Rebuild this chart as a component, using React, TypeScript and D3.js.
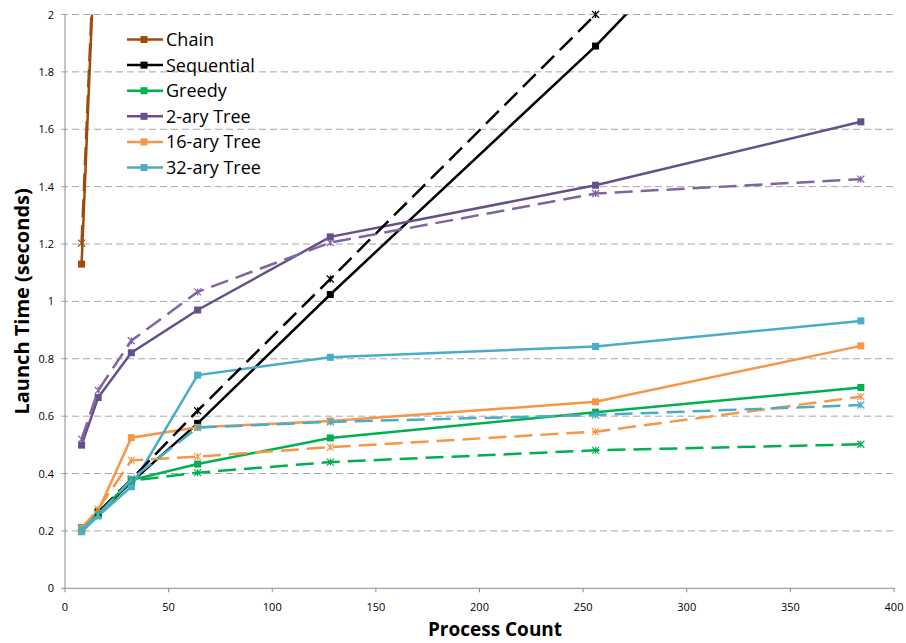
import React, { useRef, useEffect } from 'react';
import * as d3 from 'd3';

// process counts on the x axis
const counts = [8, 16, 32, 64, 128, 256, 384];
const chainCounts = [8, 16];

// solid lines (square markers)
const chainSolid = [1.13, 2.52];
const sequentialSolid = [0.21, 0.26, 0.37, 0.575, 1.024, 1.89, 2.85];
const greedySolid = [0.21, 0.26, 0.377, 0.433, 0.524, 0.614, 0.7];
const tree2Solid = [0.499, 0.665, 0.821, 0.97, 1.225, 1.405, 1.626];
const tree16Solid = [0.21, 0.27, 0.525, 0.561, 0.583, 0.65, 0.845];
const tree32Solid = [0.197, 0.252, 0.354, 0.743, 0.805, 0.843, 0.932];

// dashed lines (star markers)
const chainDashed = [1.203, 2.55];
const sequentialDashed = [0.21, 0.265, 0.38, 0.619, 1.078, 2.0, 2.9];
const greedyDashed = [0.21, 0.26, 0.375, 0.403, 0.44, 0.481, 0.502];
const tree2Dashed = [0.52, 0.69, 0.863, 1.033, 1.205, 1.376, 1.426];
const tree16Dashed = [0.21, 0.276, 0.446, 0.459, 0.492, 0.546, 0.668];
const tree32Dashed = [0.205, 0.255, 0.38, 0.56, 0.58, 0.604, 0.639];

const seriesNames = ['Chain', 'Sequential', 'Greedy', '2-ary Tree', '16-ary Tree', '32-ary Tree'];
const seriesColors = ['#9C4A0E', '#000000', '#00B050', '#66508A', '#F79646', '#4BACC6'];
const dashedColors = ['#9C4A0E', '#000000', '#00B050', '#8064A2', '#F79646', '#4BACC6'];

const xTicks = [0, 50, 100, 150, 200, 250, 300, 350, 400];
const yTicks = [0, 0.2, 0.4, 0.6, 0.8, 1, 1.2, 1.4, 1.6, 1.8, 2];

const App = () => {
    const chartRef = useRef<SVGSVGElement>(null);

    useEffect(() => {
        const svg = d3.select(chartRef.current);
        svg.selectAll('*').remove();

        const left = 65, right = 894, top = 14.5, bottom = 588.3;
        const font = "'Open Sans', sans-serif";

        const x = d3.scaleLinear().domain([0, 400]).range([left, right]);
        const y = d3.scaleLinear().domain([0, 2]).range([bottom, top]);

        // gridlines
        svg.append('g')
            .selectAll('line')
            .data(yTicks.slice(1))
            .enter()
            .append('line')
            .attr('x1', left - 4)
            .attr('x2', right + 1)
            .attr('y1', (d) => y(d))
            .attr('y2', (d) => y(d))
            .attr('stroke', '#A6A6A6')
            .attr('stroke-width', 1)
            .attr('stroke-dasharray', '7,4');

        // axes
        const axisColor = '#8C8C8C';
        svg.append('line')
            .attr('x1', left).attr('x2', left)
            .attr('y1', top).attr('y2', bottom)
            .attr('stroke', axisColor);
        svg.append('line')
            .attr('x1', left - 4).attr('x2', right + 1)
            .attr('y1', bottom).attr('y2', bottom)
            .attr('stroke', axisColor);
        svg.append('g')
            .selectAll('line')
            .data(xTicks)
            .enter()
            .append('line')
            .attr('x1', (d) => x(d)).attr('x2', (d) => x(d))
            .attr('y1', bottom).attr('y2', bottom + 4)
            .attr('stroke', axisColor);

        svg.append('g')
            .selectAll('text')
            .data(xTicks)
            .enter()
            .append('text')
            .attr('x', (d) => x(d))
            .attr('y', bottom + 23)
            .attr('text-anchor', 'middle')
            .style('font-family', font)
            .style('font-size', '11px')
            .attr('fill', '#000')
            .text((d) => d);

        svg.append('g')
            .selectAll('text')
            .data(yTicks)
            .enter()
            .append('text')
            .attr('x', 54)
            .attr('y', (d) => y(d) + 4)
            .attr('text-anchor', 'end')
            .style('font-family', font)
            .style('font-size', '11px')
            .attr('fill', '#000')
            .text((d) => d);

        svg.append('text')
            .attr('x', 495)
            .attr('y', 636)
            .attr('text-anchor', 'middle')
            .style('font-family', font)
            .style('font-size', '19px')
            .style('font-weight', 'bold')
            .text('Process Count');

        svg.append('text')
            .attr('transform', `translate(29, ${(top + bottom) / 2}) rotate(-90)`)
            .attr('text-anchor', 'middle')
            .style('font-family', font)
            .style('font-size', '20px')
            .style('font-weight', 'bold')
            .text('Launch Time (seconds)');

        svg.append('defs')
            .append('clipPath')
            .attr('id', 'plot-clip')
            .append('rect')
            .attr('x', left)
            .attr('y', top)
            .attr('width', right - left + 2)
            .attr('height', bottom - top);

        const solid = [chainSolid, sequentialSolid, greedySolid, tree2Solid, tree16Solid, tree32Solid];
        const dashed = [chainDashed, sequentialDashed, greedyDashed, tree2Dashed, tree16Dashed, tree32Dashed];

        const line = d3.line<[number, number]>()
            .x((d) => x(d[0]))
            .y((d) => y(d[1]));

        const toPoints = (vals: number[], i: number): [number, number][] =>
            vals.map((v, j) => [(i === 0 ? chainCounts : counts)[j], v]);

        const drawSquare = (g: any, px: number, py: number, color: string) => {
            g.append('rect')
                .attr('x', px - 3.5)
                .attr('y', py - 3.5)
                .attr('width', 7)
                .attr('height', 7)
                .attr('fill', color);
        };

        const drawStar = (g: any, px: number, py: number, color: string) => {
            const s = 3.5;
            g.append('path')
                .attr('d', `M${px - s},${py - s}L${px + s},${py + s}M${px - s},${py + s}L${px + s},${py - s}M${px},${py - s}L${px},${py + s}`)
                .attr('stroke', color)
                .attr('stroke-width', 1.2)
                .attr('fill', 'none');
        };

        const plot = svg.append('g');

        solid.forEach((vals, i) => {
            const pts = toPoints(vals, i);
            plot.append('path')
                .attr('d', line(pts))
                .attr('clip-path', 'url(#plot-clip)')
                .attr('fill', 'none')
                .attr('stroke', seriesColors[i])
                .attr('stroke-width', 2.5);
            pts.filter((p) => p[1] <= 2.01).forEach((p) => drawSquare(plot, x(p[0]), y(p[1]), seriesColors[i]));
        });

        dashed.forEach((vals, i) => {
            const pts = toPoints(vals, i);
            plot.append('path')
                .attr('d', line(pts))
                .attr('clip-path', 'url(#plot-clip)')
                .attr('fill', 'none')
                .attr('stroke', dashedColors[i])
                .attr('stroke-width', 2.5)
                .attr('stroke-dasharray', '18,8');
            pts.filter((p) => p[1] <= 2.01).forEach((p) => drawStar(plot, x(p[0]), y(p[1]), dashedColors[i]));
        });

        // legend
        const legend = svg.append('g');
        seriesNames.forEach((name, i) => {
            const ly = 39.5 + i * 25.6;
            legend.append('line')
                .attr('x1', 127).attr('x2', 163)
                .attr('y1', ly).attr('y2', ly)
                .attr('stroke', seriesColors[i])
                .attr('stroke-width', 2.5);
            drawSquare(legend, 144, ly, seriesColors[i]);
            legend.append('text')
                .attr('x', 166)
                .attr('y', ly + 6.5)
                .style('font-family', font)
                .style('font-size', '18px')
                .attr('fill', '#000')
                .text(name);
        });
    }, []);

    return (
        <svg
            ref={chartRef}
            width={906}
            height={643}
            style={{ position: 'absolute', left: 0, top: 0, background: '#fff' }}
        ></svg>
    );
};

export default App;
